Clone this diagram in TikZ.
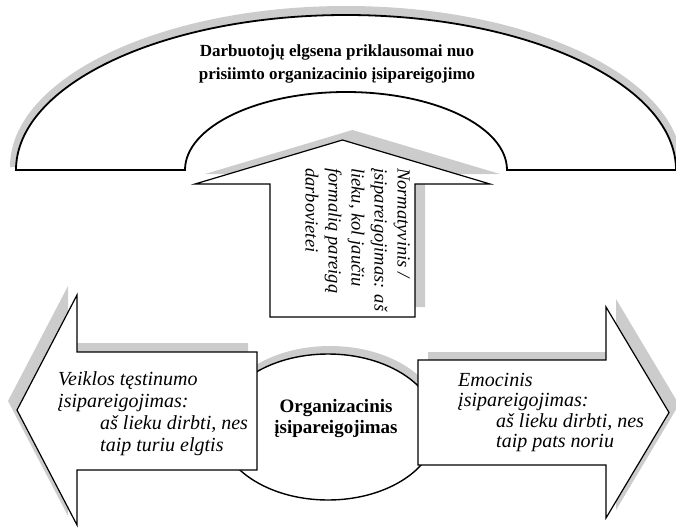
\documentclass[tikz,border=0pt]{standalone}
\usepackage{fontspec}
\setmainfont{Liberation Serif}
\begin{document}
\begin{tikzpicture}[x=1pt,y=-1pt,
  outlined/.style={fill=white,draw=black,line width=1.2pt,line join=miter},
  boldtext/.style={font=\bfseries\fontsize{17}{23}\selectfont,align=center,inner sep=0pt},
  itext/.style={font=\itshape\fontsize{20}{22}\selectfont,align=left,inner sep=0pt}]
\definecolor{shadowgray}{RGB}{204,204,204}
\useasboundingbox (0,0) rectangle (676,527);

% --- upper arch: behaviour depending on commitment ---
\fill[shadowgray] (10,167) arc[start angle=180,end angle=360,x radius=336,y radius=161]
  -- (507,170) arc[start angle=0,end angle=-180,x radius=161,y radius=78] -- cycle;
\draw[outlined,line width=1.8pt] (16,170) arc[start angle=180,end angle=360,x radius=330,y radius=155]
  -- (507,170) arc[start angle=0,end angle=-180,x radius=161,y radius=78] -- cycle;
\node[boldtext,anchor=north] (title) at (337,44.5)
  {Darbuotojų elgsena priklausomai nuo\\prisiimto organizacinio įsipareigojimo};

% --- upward arrow: normative commitment ---
\fill[shadowgray,shift={(10,-10)}] (270,317) -- (270,184) -- (195,184) -- (342.5,140)
  -- (490,184) -- (415,184) -- (415,317) -- cycle;
\draw[outlined] (270,317) -- (270,184) -- (195,184) -- (342.5,140)
  -- (490,184) -- (415,184) -- (415,317) -- cycle;
\node[itext,font=\itshape\fontsize{18.5}{23}\selectfont,rotate=-90,anchor=north west] (norm) at (410,168)
  {Normatyvinis /\\įsipareigojimas: aš\\lieku, kol jaučiu\\formalią pareigą\\darbovietei};

% --- central ellipse ---
\fill[shadowgray] (330,419) ellipse[x radius=110,y radius=73];
\draw[outlined,line width=1.4pt] (328,427) ellipse[x radius=109,y radius=73];
\node[boldtext,font=\bfseries\fontsize{19}{21}\selectfont,anchor=north] (org) at (336,399)
  {Organizacinis\\įsipareigojimas};

% --- left arrow: continuance commitment ---
\fill[shadowgray,shift={(-9,-9)}] (17,410) -- (77,295) -- (77,352) -- (257,352)
  -- (257,470) -- (77,470) -- (77,525) -- cycle;
\draw[outlined] (17,410) -- (77,295) -- (77,352) -- (257,352)
  -- (257,470) -- (77,470) -- (77,525) -- cycle;
\node[itext,anchor=north west] (cont) at (58,371)
  {Veiklos tęstinumo\\įsipareigojimas:\\\hspace*{42pt}aš lieku dirbti, nes\\\hspace*{42pt}taip turiu elgtis};

% --- right arrow: affective commitment ---
\fill[shadowgray,shift={(10,-8)}] (418,360) -- (606,360) -- (606,307) -- (669,412.5)
  -- (606,518) -- (606,465) -- (418,465) -- cycle;
\draw[outlined] (418,360) -- (606,360) -- (606,307) -- (669,412.5)
  -- (606,518) -- (606,465) -- (418,465) -- cycle;
\node[itext,font=\itshape\fontsize{20}{20.5}\selectfont,anchor=north west] (emo) at (458,373)
  {Emocinis\\įsipareigojimas:\\\hspace*{38pt}aš lieku dirbti, nes\\\hspace*{38pt}taip pats noriu};
\end{tikzpicture}
\end{document}
